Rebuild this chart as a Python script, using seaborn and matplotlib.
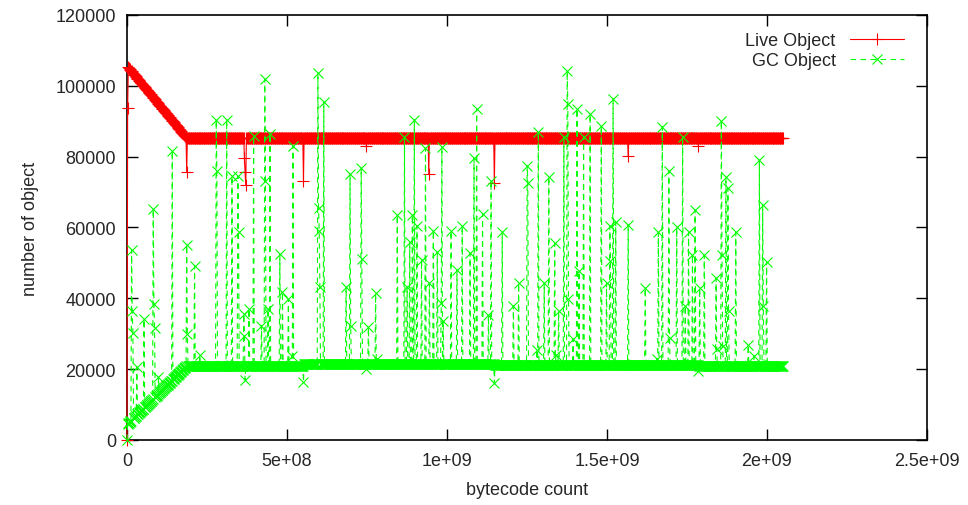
import numpy as np
import pandas as pd
import matplotlib
matplotlib.use("Agg")
import matplotlib.pyplot as plt
import seaborn as sns

# ---------------- data (bytecode positions in millions) ----------------
n_samples = 1001
sample_step_m = 2.05          # sampling interval, millions of bytecodes

live_anchor_x = [0, 2.05, 4.1, 187, 2050]
live_anchor_y = [0, 93700, 105200, 85200, 85200]

gc_anchor_x = [0, 2.05, 187, 550, 551, 1147, 1148, 1785, 1786, 2050]
gc_anchor_y = [0, 4500, 21000, 20900, 21500, 21500, 21200, 21200, 20800, 20800]

live_dip_x = [187, 367, 551, 749, 944, 1147, 1567, 1785]
live_dip_vals = [[75600], [79500, 75600, 72000], [73200], [82900], [75100],
                 [72500], [80100], [82900]]

gc_spike_x = [15, 30, 54, 82, 98, 142, 187, 212, 228, 278, 312, 329, 346, 365,
              369, 381, 395, 421, 431, 440, 447, 478, 485, 504, 515, 519, 551,
              596, 616, 684, 697, 731, 749, 754, 777, 781, 845, 867, 875, 884,
              892, 898, 907, 921, 933, 945, 957, 970, 981, 984, 988, 1012, 1032,
              1047, 1072, 1085, 1093, 1112, 1129, 1137, 1147, 1173, 1207, 1223,
              1251, 1281, 1285, 1304, 1319, 1337, 1341, 1348, 1366, 1376, 1395,
              1407, 1413, 1426, 1447, 1483, 1499, 1509, 1520, 1527, 1567, 1619,
              1656, 1660, 1673, 1694, 1718, 1737, 1744, 1754, 1768, 1775, 1785,
              1790, 1804, 1840, 1858, 1872, 1877, 1902, 1942, 1960, 1976, 1987,
              1999]
gc_spike_vals = [[53700, 36400, 30200], [20600], [34100], [65200, 38400, 31600],
                 [17800], [81700], [55000, 30000], [49100], [24000],
                 [90400, 76000], [90400], [74500], [74500, 58700],
                 [35600, 29400], [17000], [37000], [85900], [32300],
                 [101900, 73200], [37000], [86400], [52500], [41800], [39800],
                 [23800], [83100], [16400], [103600, 65500, 59100, 43300],
                 [95500], [43300], [75100, 32300], [76700, 51100], [20000],
                 [31800], [41400], [23000], [63500], [85600], [43300], [55800],
                 [63500], [90400], [60500], [50900], [82400], [44300], [59100],
                 [53000], [38600], [82700], [33700], [59100], [48000], [60500],
                 [52800], [79500], [93600], [63800], [35300], [73200], [16100],
                 [58600], [37900], [44300], [77500, 72600], [25500], [87000],
                 [44300], [74400], [55500], [24000], [36300], [85600],
                 [104300, 94900, 39800], [28500], [93500], [47600], [85600],
                 [92000], [88700], [44300], [60400, 50600], [96400], [61600],
                 [60800], [42900], [23000], [58600], [88500], [76000, 28700],
                 [60000], [85600], [37900], [58600], [52300], [65000], [19600],
                 [42900], [52200], [45700, 25600], [90200, 52300, 26500],
                 [74200], [71100, 36300], [58600], [26800], [23800], [79100],
                 [66400, 37900], [50400]]

x_ticks = [0, 5e8, 1e9, 1.5e9, 2e9, 2.5e9]
x_tick_labels = ["0", "5e+08", "1e+09", "1.5e+09", "2e+09", "2.5e+09"]
y_ticks = [0, 20000, 40000, 60000, 80000, 100000, 120000]
y_tick_labels = ["0", "20000", "40000", "60000", "80000", "100000", "120000"]

# ---------------- build series ----------------
xs_m = np.arange(n_samples) * sample_step_m
live = np.interp(xs_m, live_anchor_x, live_anchor_y)
gc = np.interp(xs_m, gc_anchor_x, gc_anchor_y)


def apply(series, pos_list, val_list):
    for p, vals in zip(pos_list, val_list):
        i0 = int(round(p / sample_step_m))
        for k, v in enumerate(vals):
            if 0 <= i0 + k < len(series):
                series[i0 + k] = v


apply(live, live_dip_x, live_dip_vals)
apply(gc, gc_spike_x, gc_spike_vals)

df = pd.DataFrame({"x": xs_m * 1e6, "live": live, "gc": gc})

# ---------------- plot ----------------
sns.set_style("ticks")
plt.rcParams["font.family"] = ["Liberation Sans", "DejaVu Sans"]
plt.rcParams["font.size"] = 13

RED = "#ff0000"
GREEN = "#00ff00"

fig = plt.figure(figsize=(9.68, 5.06), dpi=100)
ax = fig.add_axes([127 / 968, 1 - 441 / 506, 800 / 968, 425 / 506])

sns.lineplot(data=df, x="x", y="live", ax=ax, color=RED, lw=0.8,
             marker="+", markersize=8.5, markeredgewidth=0.8,
             markeredgecolor=RED, markerfacecolor=RED,
             estimator=None, sort=False, label="Live Object", clip_on=False)
sns.lineplot(data=df, x="x", y="gc", ax=ax, color=GREEN, lw=0.8,
             linestyle=(0, (5, 4)), marker="x", markersize=7,
             markeredgewidth=0.8, markeredgecolor=GREEN,
             markerfacecolor=GREEN, estimator=None, sort=False,
             label="GC Object", clip_on=False)

ax.set_xlim(0, 2.5e9)
ax.set_ylim(0, 120000)
ax.set_xticks(x_ticks)
ax.set_xticklabels(x_tick_labels)
ax.set_yticks(y_ticks)
ax.set_yticklabels(y_tick_labels)
ax.tick_params(direction="in", length=8, width=1, top=True, right=True,
               labelsize=13, color="black")
ax.tick_params(axis="x", pad=9)
ax.tick_params(axis="y", pad=8)
for s in ax.spines.values():
    s.set_visible(True)
    s.set_linewidth(1.2)
    s.set_color("black")
    s.set_zorder(1)

ax.set_xlabel("bytecode count", fontsize=13, labelpad=8)
ax.set_ylabel("number of object", fontsize=13, labelpad=12)

leg = ax.legend(loc="upper right", bbox_to_anchor=(0.985, 0.985), frameon=False,
                markerfirst=False, handlelength=3.0, handletextpad=0.8,
                labelspacing=0.15, fontsize=13, borderaxespad=0.2)

fig.savefig("out.png", dpi=100)
